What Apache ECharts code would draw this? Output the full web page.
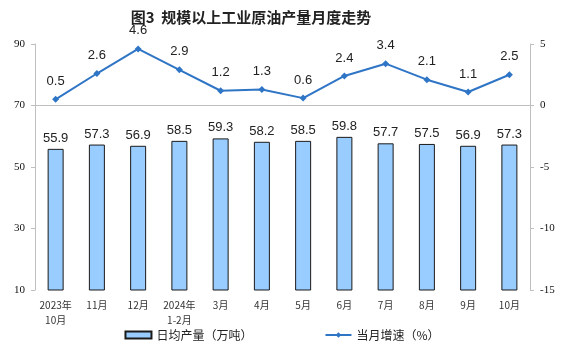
<!DOCTYPE html>
<html>
<head>
<meta charset="utf-8">
<script src="https://cdn.jsdelivr.net/npm/echarts@6/dist/echarts.min.js"></script>
<style>
  html, body { margin: 0; padding: 0; background: #fff; }
  #chart { width: 564px; height: 352px; }
</style>
</head>
<body>
<div id="chart"></div>
<script>
const months = ['2023年\n10月', '11月', '12月', '2024年\n1-2月', '3月', '4月', '5月', '6月', '7月', '8月', '9月', '10月']
const dailyOutput = [55.9, 57.3, 56.9, 58.5, 59.3, 58.2, 58.5, 59.8, 57.7, 57.5, 56.9, 57.3]
const growthRate = [0.5, 2.6, 4.6, 2.9, 1.2, 1.3, 0.6, 2.4, 3.4, 2.1, 1.1, 2.5]

const cjk = '"Noto Sans CJK SC", sans-serif'
const axisGray = '#bfbfbf'

const chart = echarts.init(document.getElementById('chart'))
chart.setOption({
  animation: false,
  title: {
    text: '图3  规模以上工业原油产量月度走势',
    left: 246,
    textAlign: 'center',
    top: 5,
    textStyle: { fontFamily: cjk, fontSize: 15, fontWeight: 'bold', color: '#222' },
  },
  legend: {
    bottom: 6,
    left: 'center',
    itemGap: 72,
    itemWidth: 26,
    itemHeight: 7,
    textStyle: { fontFamily: cjk, fontSize: 12, color: '#222' },
    data: [
      { name: '日均产量（万吨）', icon: 'rect' },
      { name: '当月增速（%）' },
    ],
  },
  grid: { left: 35, right: 34, top: 44, bottom: 62 },
  xAxis: {
    type: 'category',
    data: months,
    axisLine: { lineStyle: { color: axisGray } },
    axisTick: { length: 3, lineStyle: { color: axisGray } },
    axisLabel: { fontFamily: cjk, fontSize: 10, color: '#333', margin: 8, interval: 0, lineHeight: 15 },
  },
  yAxis: [
    {
      type: 'value',
      min: 10,
      max: 90,
      interval: 20,
      splitLine: { show: false },
      axisLine: { show: true, lineStyle: { color: axisGray } },
      axisTick: { show: true, length: 4, lineStyle: { color: axisGray } },
      axisLabel: { fontFamily: '"Liberation Serif", serif', fontSize: 11, color: '#111', margin: 10 },
    },
    {
      type: 'value',
      min: -15,
      max: 5,
      interval: 5,
      splitLine: { show: false },
      axisLine: { show: true, lineStyle: { color: axisGray } },
      axisTick: { show: true, length: 4, lineStyle: { color: axisGray } },
      axisLabel: { fontFamily: '"Liberation Serif", serif', fontSize: 11, color: '#111', margin: 10 },
    },
  ],
  series: [
    {
      name: '日均产量（万吨）',
      type: 'bar',
      data: dailyOutput,
      barWidth: 16,
      itemStyle: { color: '#99ccff', borderColor: '#1a1a1a', borderWidth: 1 },
      label: {
        show: true,
        position: 'top',
        distance: 4,
        fontFamily: '"Liberation Sans", Arial, sans-serif',
        fontSize: 13,
        color: '#222',
      },
    },
    {
      name: '当月增速（%）',
      type: 'line',
      yAxisIndex: 1,
      data: growthRate,
      symbol: 'diamond',
      symbolSize: 7,
      lineStyle: { color: '#2f75c6', width: 2 },
      itemStyle: { color: '#2f75c6' },
      label: {
        show: true,
        position: 'top',
        distance: 8,
        fontFamily: '"Liberation Sans", Arial, sans-serif',
        fontSize: 13,
        color: '#222',
        formatter: p => p.value.toFixed(1),
      },
    },
  ],
})
</script>
</body>
</html>
